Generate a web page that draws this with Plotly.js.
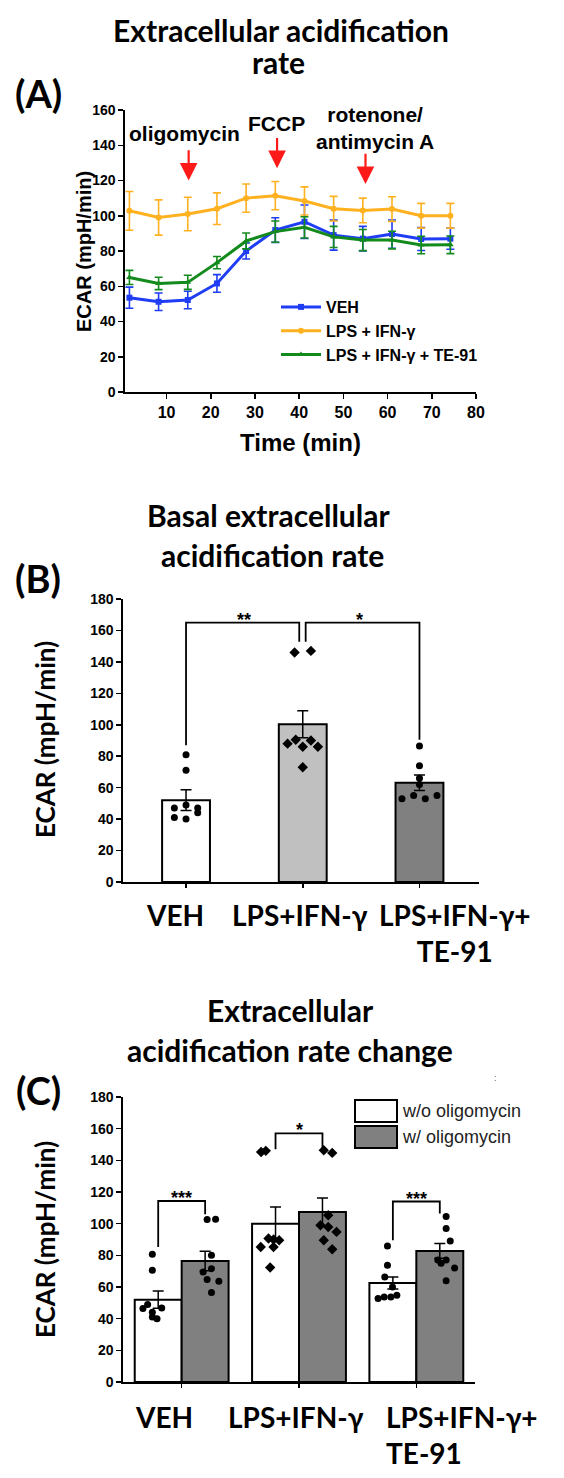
<!DOCTYPE html>
<html>
<head>
<meta charset="utf-8">
<script src="https://cdn.plot.ly/plotly-3.0.1.min.js"></script>
<style>html,body{margin:0;padding:0;background:#fff;}#chart{width:564px;height:1478px;}</style>
</head>
<body>
<div id="chart"></div>
<script>
// ---------- Panel A data ----------
const timeMin = [1.6, 8.2, 14.8, 21.4, 28.0, 34.6, 41.2, 47.8, 54.4, 61.0, 67.6, 74.2];
const vehEcar = [53.5, 51.2, 52.2, 61.6, 80.0, 91.9, 96.6, 89.0, 87.0, 89.6, 86.8, 87.0];
const vehSem  = [6, 5, 5, 5, 4.5, 7, 9.5, 8.5, 7, 8, 6.5, 6];
const lpsEcar = [102.8, 99.0, 101.0, 104.0, 110.0, 111.4, 108.4, 104.0, 103.0, 103.8, 100.0, 100.0];
const lpsSem  = [11, 10, 9.5, 9, 8, 8, 8, 7, 7, 7, 7, 7];
const teEcar  = [65.0, 61.6, 62.2, 73.4, 85.7, 91.0, 93.4, 88.0, 86.2, 86.2, 83.4, 83.5];
const teSem   = [4, 3.5, 4, 3.5, 4.5, 6, 6, 6, 6, 5, 5, 5];
const seriesNames = ['VEH', 'LPS + IFN-γ', 'LPS + IFN-γ + TE-91'];
const xTicksA = [10, 20, 30, 40, 50, 60, 70, 80];
const injections = [15, 35, 55];
const injectionLabels = ['oligomycin', 'FCCP', 'rotenone/<br>antimycin A'];

// ---------- Panel B data ----------
const groupLabels = ['VEH', 'LPS+IFN-γ', 'LPS+IFN-γ+<br>TE-91'];
const basalMean = [52.0, 100.4, 63.1];
const basalSem  = [6.6, 8.6, 4.9];
const vehBasal = [81, 71, 47, 49, 47, 41, 40, 44];
const vehBasalJit = [0, 0, -0.1, 0, 0.1, -0.1, 0, 0.1];
const lpsBasal = [146, 147, 88, 90.5, 90, 86, 86, 73];
const lpsBasalJit = [-0.07, 0.07, -0.13, -0.06, 0.07, 0, 0.13, 0];
const teBasal = [86.5, 74, 66, 62, 53, 55, 53, 55];
const teBasalJit = [0, 0, 0, 0, -0.15, -0.05, 0.05, 0.15];

// ---------- Panel C data ----------
const conditionNames = ['w/o oligomycin', 'w/ oligomycin'];
const woMean = [52.0, 100.0, 62.5];
const woSem  = [5.5, 10.6, 3.8];
const wMean  = [76.4, 107.4, 82.8];
const wSem   = [6.2, 8.8, 4.6];
const vehWo = [80.7, 70.6, 46.4, 49, 46.8, 44, 41, 40];
const vehWoJit = [-0.05, -0.05, -0.13, -0.09, 0.03, -0.05, -0.05, -0.01];
const vehW = [102.6, 102.8, 80, 69.5, 71.6, 64.7, 63.6, 56.5];
const vehWJit = [0.017, 0.089, 0.054, -0.017, 0.054, 0.017, 0.117, 0.054];
const lpsWo = [145.3, 146, 85.3, 90.6, 90, 89.5, 85.3, 72.3];
const lpsWoJit = [-0.123, -0.083, -0.126, -0.06, -0.017, 0.031, -0.017, -0.046];
const lpsW = [146.4, 144.7, 105.3, 99, 97.9, 94.8, 89.5, 83.8];
const lpsWJit = [0.011, 0.083, 0.049, -0.017, 0.049, 0.12, 0.011, 0.083];
const teWo = [85.9, 73.7, 66.3, 60, 52.7, 53.7, 53.7, 54.8];
const teWoJit = [-0.046, -0.046, -0.069, -0.003, -0.126, -0.074, -0.017, 0.034];
const teW = [104.5, 97, 89, 77, 77, 75, 72, 64];
const teWJit = [0.054, 0.054, 0.089, -0.017, 0.054, 0.011, 0.126, 0.054];

// ---------- helpers ----------
const W = 564, H = 1478;
const px = v => v / W;
const py = v => 1 - v / H;
const ARIAL = 'Liberation Sans, Arial, sans-serif';
const CAL = 'Lato, Carlito, Calibri, sans-serif';
const idx = [0, 1, 2];

const traces = [];
// Panel A lines
const lineCols = ['#1f3df5', '#ffb120', '#138a1c'];
const syms = ['square', 'circle', 'triangle-up'];
[[vehEcar, vehSem], [lpsEcar, lpsSem], [teEcar, teSem]].forEach((s, i) => {
  traces.push({
    type: 'scatter', mode: 'lines+markers', name: seriesNames[i],
    x: timeMin, y: s[0], xaxis: 'x', yaxis: 'y',
    line: {color: lineCols[i], width: 3},
    marker: {symbol: syms[i], size: 6, color: lineCols[i]},
    error_y: {type: 'data', array: s[1], visible: true, color: lineCols[i], thickness: 1.6, width: 4},
    showlegend: true
  });
});
// Panel B bars
traces.push({
  type: 'bar', x: idx, y: basalMean, xaxis: 'x2', yaxis: 'y2', width: 0.41,
  marker: {color: ['#ffffff', '#c0c0c0', '#808080'], line: {color: '#000', width: 2}},
  error_y: {type: 'data', array: basalSem, visible: true, color: '#000', thickness: 1.5, width: 5.5},
  showlegend: false, name: 'Basal ECAR'
});
const ptsB = [[vehBasal, vehBasalJit, 'circle'], [lpsBasal, lpsBasalJit, 'diamond'], [teBasal, teBasalJit, 'circle']];
ptsB.forEach((p, g) => {
  traces.push({
    type: 'scatter', mode: 'markers', xaxis: 'x2', yaxis: 'y2',
    x: p[1].map(j => g + j), y: p[0],
    marker: {symbol: p[2], size: p[2] === 'diamond' ? 8 : 7, color: '#000'},
    showlegend: false, name: groupLabels[g]
  });
});
// Panel C bars
const shiftC = [-0.2, 0.2];
traces.push({
  type: 'bar', name: conditionNames[0], x: idx.map(i => i + shiftC[0]), y: woMean, xaxis: 'x3', yaxis: 'y3', width: 0.4,
  marker: {color: '#ffffff', line: {color: '#000', width: 2}},
  error_y: {type: 'data', array: woSem, visible: true, color: '#000', thickness: 1.5, width: 5.5},
  showlegend: false
});
traces.push({
  type: 'bar', name: conditionNames[1], x: idx.map(i => i + shiftC[1]), y: wMean, xaxis: 'x3', yaxis: 'y3', width: 0.4,
  marker: {color: '#808080', line: {color: '#000', width: 2}},
  error_y: {type: 'data', array: wSem, visible: true, color: '#000', thickness: 1.5, width: 5.5},
  showlegend: false
});
const ptsC = [
  [0, 0, vehWo, vehWoJit, 'circle'], [0, 1, vehW, vehWJit, 'circle'],
  [1, 0, lpsWo, lpsWoJit, 'diamond'], [1, 1, lpsW, lpsWJit, 'diamond'],
  [2, 0, teWo, teWoJit, 'circle'], [2, 1, teW, teWJit, 'circle']
];
ptsC.forEach(p => {
  traces.push({
    type: 'scatter', mode: 'markers', xaxis: 'x3', yaxis: 'y3',
    x: p[3].map(j => p[0] + shiftC[p[1]] + j), y: p[2],
    marker: {symbol: p[4], size: p[4] === 'diamond' ? 8 : 7, color: '#000'},
    showlegend: false, name: conditionNames[p[1]]
  });
});

const axBase = {
  showline: true, linecolor: '#000', linewidth: 1.6, ticks: 'outside', ticklen: 5, tickwidth: 1.5, tickcolor: '#000',
  showgrid: false, zeroline: false, fixedrange: true
};

const annotations = [];
const shapes = [];
const txt = (x, y, text, size, family, extra) => annotations.push(Object.assign({
  xref: 'paper', yref: 'paper', x: px(x), y: py(y), text: text, showarrow: false, xanchor: 'center', yanchor: 'middle',
  font: {family: family, size: size, weight: 'bold', color: '#000'}}, extra || {}));
// Panel labels
txt(38, 93, '(A)', 38, CAL);
txt(38, 578, '(B)', 38, CAL);
txt(38, 1090, '(C)', 38, CAL);
// Panel titles (one annotation per line)
txt(278, 62, 'rate', 30, CAL);
txt(268, 515, 'Basal extracellular', 30, CAL);
txt(272, 555, 'acidification rate', 30, CAL);
txt(290, 1010, 'Extracellular', 30, CAL);
txt(290, 1050, 'acidification rate change', 30, CAL);
// y titles
txt(84, 252, 'ECAR (mpH/min)', 20, ARIAL, {textangle: -90});
txt(45, 740, 'ECAR (mpH/min)', 26, CAL, {textangle: -90});
txt(45, 1240, 'ECAR (mpH/min)', 26, CAL, {textangle: -90});
// x title A
txt(300, 442, 'Time (min)', 24, ARIAL);
// category labels (B and C)
const catShiftB = [-11, -3, 36];
const catShiftC = [-18, -3, 0];
groupLabels.forEach((lab, g) => {
  annotations.push({xref: 'x2', yref: 'paper', x: g, y: py(896), xshift: catShiftB[g], text: lab, showarrow: false,
    xanchor: 'center', yanchor: 'top', align: 'center', font: {family: CAL, size: 28, weight: 'bold', color: '#000'}});
  const last = g === groupLabels.length - 1;
  annotations.push({xref: last ? 'paper' : 'x3', yref: 'paper', x: last ? px(384) : g, y: py(1398), xshift: catShiftC[g], text: lab,
    showarrow: false, xanchor: last ? 'left' : 'center', yanchor: 'top', align: last ? 'left' : 'center',
    font: {family: CAL, size: 28, weight: 'bold', color: '#000'}});
});
// injection arrows (A)
const arrowTop = [138, 145, 136];
const arrowTip = [120, 127, 118];
const labelX = [14.1, 34.9, 57.1];
const labelY = [146.6, 152.6, 150];
injections.forEach((t, i) => {
  annotations.push({xref: 'x', yref: 'y', x: t, y: arrowTip[i], axref: 'x', ayref: 'y', ax: t, ay: arrowTop[i],
    text: '', showarrow: true, arrowhead: 2, arrowsize: 1.6, arrowwidth: 2.2, arrowcolor: '#ff1a1a'});
  annotations.push({xref: 'x', yref: 'y', x: labelX[i], y: labelY[i], text: injectionLabels[i], showarrow: false,
    xanchor: 'center', yanchor: 'middle', font: {family: ARIAL, size: 21, weight: 'bold', color: '#000'}});
});
// significance brackets
const bracket = (xr, yr, path) => shapes.push({type: 'path', xref: xr, yref: yr, path: path, line: {color: '#000', width: 1.8}});
const star = (xr, yr, x, y, s) => annotations.push({xref: xr, yref: yr, x: x, y: y, text: s, showarrow: false,
  xanchor: 'center', yanchor: 'bottom', yshift: -9, font: {family: ARIAL, size: 18, weight: 'bold', color: '#000'}});
bracket('x2', 'y2', 'M 0,87 V 165 H 0.97 V 152.8');
bracket('x2', 'y2', 'M 1.025,152.8 V 165 H 2 V 90.5');
star('x2', 'y2', 0.5, 165, '**');
star('x2', 'y2', 1.49, 165, '*');
bracket('x3', 'y3', 'M -0.2,85.3 V 114.3 H 0.2 V 106');
bracket('x3', 'y3', 'M 0.8,147 V 157 H 1.2 V 147');
bracket('x3', 'y3', 'M 1.8,89.5 V 114 H 2.2 V 106.4');
star('x3', 'y3', 0, 114.3, '***');
star('x3', 'y3', 1, 157, '*');
star('x3', 'y3', 2, 114, '***');
// Panel C legend (drawn)
shapes.push({type: 'rect', xref: 'paper', yref: 'paper', x0: px(355), x1: px(397), y0: py(1100), y1: py(1122),
  fillcolor: '#ffffff', line: {color: '#000', width: 2}});
shapes.push({type: 'rect', xref: 'paper', yref: 'paper', x0: px(355), x1: px(397), y0: py(1126), y1: py(1148),
  fillcolor: '#808080', line: {color: '#000', width: 2}});
annotations.push({xref: 'paper', yref: 'paper', x: px(400), y: py(1111), text: conditionNames[0], showarrow: false,
  xanchor: 'left', yanchor: 'middle', font: {family: ARIAL, size: 18, color: '#222'}});
annotations.push({xref: 'paper', yref: 'paper', x: px(400), y: py(1137), text: conditionNames[1], showarrow: false,
  xanchor: 'left', yanchor: 'middle', font: {family: ARIAL, size: 18, color: '#222'}});
annotations.push({xref: 'paper', yref: 'paper', x: px(495), y: py(1078), text: ':', showarrow: false,
  xanchor: 'center', yanchor: 'middle', font: {family: ARIAL, size: 9, color: '#555'}});

const layout = {
  width: W, height: H, margin: {l: 0, r: 0, t: 0, b: 0},
  paper_bgcolor: '#fff', plot_bgcolor: 'rgba(0,0,0,0)',
  title: {text: 'Extracellular acidification', x: px(281), xanchor: 'center', y: py(31), yanchor: 'middle',
    font: {family: CAL, size: 30, weight: 'bold', color: '#000'}},
  showlegend: true,
  legend: {x: px(276), y: py(290), xanchor: 'left', yanchor: 'top', bgcolor: 'rgba(0,0,0,0)',
    font: {family: ARIAL, size: 16, weight: 'bold', color: '#000'}, tracegroupgap: 0, itemwidth: 40},
  xaxis: Object.assign({}, axBase, {domain: [px(125), px(476)], range: [0.6, 80], tickvals: xTicksA,
    tickfont: {family: ARIAL, size: 16, weight: 'bold', color: '#000'}, anchor: 'y'}),
  yaxis: Object.assign({}, axBase, {domain: [py(392), py(110)], range: [0, 160], dtick: 20,
    tickfont: {family: ARIAL, size: 14, weight: 'bold', color: '#000'}, anchor: 'x'}),
  xaxis2: Object.assign({}, axBase, {domain: [px(123), px(479)], range: [-0.54, 2.51], tickvals: idx,
    showticklabels: false, ticklen: 4, anchor: 'y2'}),
  yaxis2: Object.assign({}, axBase, {domain: [py(882), py(599)], range: [0, 180], dtick: 20,
    tickfont: {family: ARIAL, size: 14, weight: 'bold', color: '#000'}, anchor: 'x2'}),
  xaxis3: Object.assign({}, axBase, {domain: [px(123), px(475)], range: [-0.5, 2.5], tickvals: idx,
    showticklabels: false, ticklen: 4, anchor: 'y3'}),
  yaxis3: Object.assign({}, axBase, {domain: [py(1382), py(1097)], range: [0, 180], dtick: 20,
    tickfont: {family: ARIAL, size: 14, weight: 'bold', color: '#000'}, anchor: 'x3'}),
  annotations: annotations, shapes: shapes
};

Plotly.newPlot('chart', traces, layout, {displayModeBar: false, staticPlot: true});
</script>
</body>
</html>
